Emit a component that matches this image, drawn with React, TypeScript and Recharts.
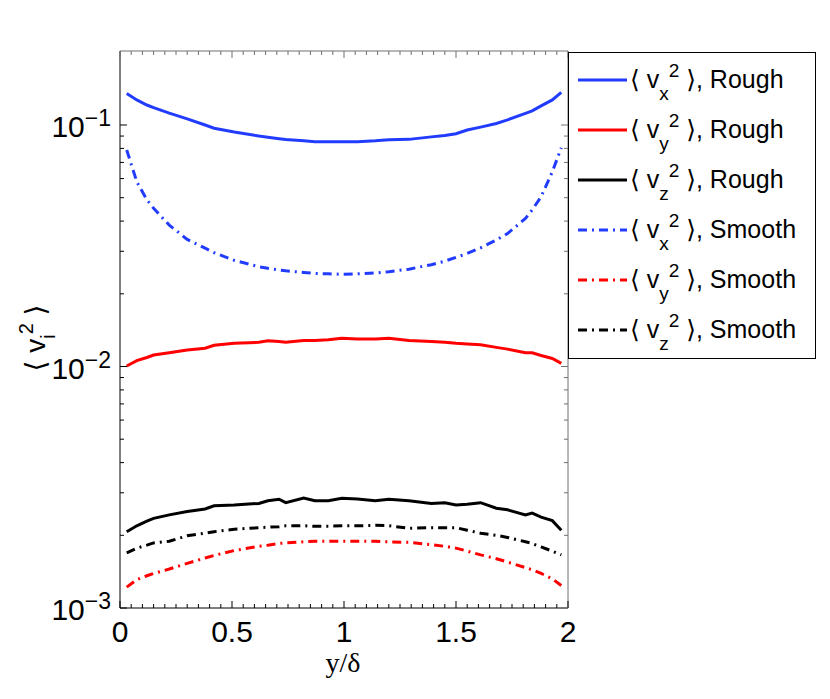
import { LineChart, Line, XAxis, YAxis } from "recharts";

const SANS = "'Liberation Sans', Arial, 'DejaVu Sans', sans-serif";
const SERIF = "'Liberation Serif', 'Times New Roman', serif";
const BLUE = "#223cff";
const RED = "#ff0000";
const BLACK = "#000000";
const FRAME_GRAY = "#707070";

// y/delta positions of the samples
const xs = [
  0.03, 0.075, 0.12, 0.15, 0.22, 0.3, 0.38, 0.42, 0.51, 0.62, 0.66, 0.71, 0.74, 0.82, 0.87, 0.93,
  0.99, 1.06, 1.14, 1.2, 1.29, 1.39, 1.45, 1.5, 1.55, 1.61, 1.68, 1.73, 1.81, 1.84, 1.88, 1.93, 1.97,
];

const vxRough = [
  0.135, 0.127, 0.121, 0.118, 0.112, 0.106, 0.1, 0.097, 0.0935, 0.09, 0.089, 0.0878, 0.087, 0.086,
  0.0853, 0.0852, 0.0852, 0.0853, 0.086, 0.0868, 0.0872, 0.0893, 0.0905, 0.092, 0.0953, 0.098,
  0.1015, 0.105, 0.1118, 0.1145, 0.12, 0.127, 0.1366,
];
const vyRough = [
  0.01005, 0.01057, 0.0109, 0.01116, 0.0114, 0.0117, 0.0119, 0.01225, 0.01248, 0.0126, 0.01278,
  0.0127, 0.0126, 0.0128, 0.0128, 0.0129, 0.0131, 0.013, 0.013, 0.0131, 0.0128, 0.0127, 0.0126,
  0.01248, 0.0124, 0.0123, 0.012, 0.0118, 0.0114, 0.0114, 0.0111, 0.0108, 0.0103,
];
const vzRough = [
  0.00207, 0.00219, 0.00229, 0.00235, 0.00243, 0.00251, 0.00257, 0.00265, 0.00267, 0.00271,
  0.00278, 0.00282, 0.00273, 0.00285, 0.00278, 0.00278, 0.00285, 0.00283, 0.00278, 0.00282,
  0.00278, 0.00271, 0.00273, 0.00267, 0.00269, 0.00273, 0.00259, 0.00255, 0.00243, 0.00247,
  0.00238, 0.0023, 0.0021,
];
const vxSmooth = [
  0.0788, 0.0582, 0.049, 0.0452, 0.0385, 0.0336, 0.0309, 0.0296, 0.0275, 0.0259, 0.0255, 0.0251,
  0.0249, 0.0245, 0.0243, 0.0242, 0.0241, 0.0242, 0.0244, 0.0247, 0.0253, 0.0264, 0.0273, 0.0283,
  0.0294, 0.031, 0.0334, 0.0355, 0.041, 0.0445, 0.0505, 0.064, 0.0805,
];
const vySmooth = [
  0.00122, 0.00131, 0.00136, 0.00139, 0.00145, 0.00153, 0.00161, 0.00165, 0.00173, 0.0018,
  0.00182, 0.00185, 0.00186, 0.00188, 0.00189, 0.00189, 0.00189, 0.00189, 0.00189, 0.00188,
  0.00187, 0.00183, 0.0018, 0.00177, 0.00172, 0.00166, 0.0016, 0.00155, 0.00147, 0.00144,
  0.00139, 0.00132, 0.00124,
];
const vzSmooth = [
  0.00169, 0.00177, 0.00182, 0.00186, 0.00189, 0.00199, 0.00204, 0.00207, 0.00212, 0.00215,
  0.00216, 0.00217, 0.00219, 0.00219, 0.00218, 0.00218, 0.00219, 0.00219, 0.0022, 0.00219,
  0.00214, 0.00215, 0.00215, 0.00215, 0.0021, 0.00204, 0.002, 0.00196, 0.00188, 0.00185, 0.00179,
  0.00172, 0.00166,
];

const xTicks = [
  0, 0.05, 0.1, 0.15, 0.2, 0.25, 0.3, 0.35, 0.4, 0.45, 0.5, 0.55, 0.6, 0.65, 0.7, 0.75, 0.8, 0.85,
  0.9, 0.95, 1, 1.05, 1.1, 1.15, 1.2, 1.25, 1.3, 1.35, 1.4, 1.45, 1.5, 1.55, 1.6, 1.65, 1.7, 1.75,
  1.8, 1.85, 1.9, 1.95, 2,
];
const xMajor = [0, 0.5, 1, 1.5, 2];
const yTicks = [
  0.001, 0.002, 0.003, 0.004, 0.005, 0.006, 0.007, 0.008, 0.009, 0.01, 0.02, 0.03, 0.04, 0.05,
  0.06, 0.07, 0.08, 0.09, 0.1,
];
const yMajor = [0.001, 0.01, 0.1];
const yExponents = ["\u22123", "\u22122", "\u22121"];

const DASH_DOT = "9 5 2 5";

const series = [
  { key: "vxRough", comp: "x", label: "Rough", color: BLUE, dashed: false },
  { key: "vyRough", comp: "y", label: "Rough", color: RED, dashed: false },
  { key: "vzRough", comp: "z", label: "Rough", color: BLACK, dashed: false },
  { key: "vxSmooth", comp: "x", label: "Smooth", color: BLUE, dashed: true },
  { key: "vySmooth", comp: "y", label: "Smooth", color: RED, dashed: true },
  { key: "vzSmooth", comp: "z", label: "Smooth", color: BLACK, dashed: true },
];

const data = xs.map((x, i) => ({
  x,
  vxRough: vxRough[i],
  vyRough: vyRough[i],
  vzRough: vzRough[i],
  vxSmooth: vxSmooth[i],
  vySmooth: vySmooth[i],
  vzSmooth: vzSmooth[i],
}));

function BottomTick(props: any) {
  const { x, y, payload } = props;
  const major = xMajor.includes(payload.value);
  return (
    <g>
      <line x1={x} x2={x} y1={y} y2={y - (major ? 7 : 4)} stroke={BLACK} strokeWidth={1} />
      {major && (
        <text x={x} y={y + 34} textAnchor="middle" fontSize={30} fontFamily={SANS} fill={BLACK}>
          {payload.value}
        </text>
      )}
    </g>
  );
}

function TopTick(props: any) {
  const { x, y, payload } = props;
  const major = xMajor.includes(payload.value);
  return <line x1={x} x2={x} y1={y} y2={y + (major ? 7 : 4)} stroke={FRAME_GRAY} strokeWidth={1} />;
}

function LeftTick(props: any) {
  const { x, y, payload } = props;
  const idx = yMajor.indexOf(payload.value);
  const major = idx >= 0;
  return (
    <g>
      <line x1={x} x2={x + (major ? 7 : 4)} y1={y} y2={y} stroke={BLACK} strokeWidth={1} />
      {major && (
        <text x={x - 9} y={y + 12} textAnchor="end" fontSize={30} fontFamily={SANS} fill={BLACK}>
          10
          <tspan dy={-11} fontSize={23}>
            {yExponents[idx]}
          </tspan>
        </text>
      )}
    </g>
  );
}

function RightTick(props: any) {
  const { x, y, payload } = props;
  const major = yMajor.includes(payload.value);
  return <line x1={x} x2={x - (major ? 7 : 4)} y1={y} y2={y} stroke={FRAME_GRAY} strokeWidth={1} />;
}

function Overlay() {
  return (
    <svg
      width={830}
      height={699}
      style={{ position: "absolute", left: 0, top: 0, pointerEvents: "none" }}
    >
      {/* y axis title */}
      <text
        transform="translate(45,338) rotate(-90)"
        textAnchor="middle"
        fontSize={28}
        fontFamily={SANS}
        fill={BLACK}
        style={{ whiteSpace: "pre" }}
      >
        {"\u27E8 v"}
        <tspan dy={10} fontSize={20}>
          i
        </tspan>
        <tspan dy={-22} fontSize={20}>
          2
        </tspan>
        <tspan dy={12} fontSize={28}>
          {" \u27E9"}
        </tspan>
      </text>
      {/* x axis title */}
      <text x={343} y={672} textAnchor="middle" fontSize={28} fontFamily={SERIF} fill={BLACK}>
        y/δ
      </text>
      {/* legend */}
      <g transform="translate(568,52)">
        <rect x={0.5} y={0.5} width={247} height={306} fill="#fff" stroke={BLACK} strokeWidth={1} />
        {series.map((s, i) => {
          const ry = 28 + 50 * i;
          return (
            <g key={s.key}>
              <line
                x1={10}
                x2={59}
                y1={ry}
                y2={ry}
                stroke={s.color}
                strokeWidth={3}
                strokeDasharray={s.dashed ? DASH_DOT : undefined}
              />
              <text
                x={62}
                y={ry + 8}
                fontSize={25}
                fontFamily={SANS}
                fill={BLACK}
                style={{ whiteSpace: "pre" }}
              >
                {"\u27E8 v"}
                <tspan dy={12} fontSize={19}>
                  {s.comp}
                </tspan>
                <tspan dy={-23} fontSize={19}>
                  2
                </tspan>
                <tspan dy={11} fontSize={25}>
                  {" \u27E9, " + s.label}
                </tspan>
              </text>
            </g>
          );
        })}
      </g>
    </svg>
  );
}

export default function App() {
  return (
    <div style={{ position: "absolute", left: 0, top: 0, width: 830, height: 699, background: "#fff" }}>
      <LineChart width={830} height={699} data={data} margin={{ top: 0, right: 0, bottom: 0, left: 0 }}>
        <XAxis
          dataKey="x"
          type="number"
          domain={[0, 2]}
          ticks={xTicks}
          interval={0}
          height={91}
          tickSize={0}
          tickMargin={0}
          tickLine={false}
          axisLine={{ stroke: BLACK, strokeWidth: 1 }}
          tick={<BottomTick />}
        />
        <XAxis
          xAxisId="top"
          orientation="top"
          dataKey="x"
          type="number"
          domain={[0, 2]}
          ticks={xTicks}
          interval={0}
          height={51}
          tickSize={0}
          tickMargin={0}
          tickLine={false}
          axisLine={{ stroke: FRAME_GRAY, strokeWidth: 1 }}
          tick={<TopTick />}
        />
        <YAxis
          type="number"
          scale="log"
          domain={[0.001, 0.2025]}
          allowDataOverflow
          ticks={yTicks}
          interval={0}
          width={120}
          tickSize={0}
          tickMargin={0}
          tickLine={false}
          axisLine={{ stroke: BLACK, strokeWidth: 1 }}
          tick={<LeftTick />}
        />
        <YAxis
          yAxisId="right"
          orientation="right"
          type="number"
          scale="log"
          domain={[0.001, 0.2025]}
          allowDataOverflow
          ticks={yTicks}
          interval={0}
          width={262}
          tickSize={0}
          tickMargin={0}
          tickLine={false}
          axisLine={{ stroke: FRAME_GRAY, strokeWidth: 1 }}
          tick={<RightTick />}
        />
        {series.map((s) => (
          <Line
            key={s.key}
            type="linear"
            dataKey={s.key}
            stroke={s.color}
            strokeWidth={3}
            strokeDasharray={s.dashed ? DASH_DOT : undefined}
            dot={false}
            activeDot={false}
            isAnimationActive={false}
          />
        ))}
      </LineChart>
      <Overlay />
    </div>
  );
}
